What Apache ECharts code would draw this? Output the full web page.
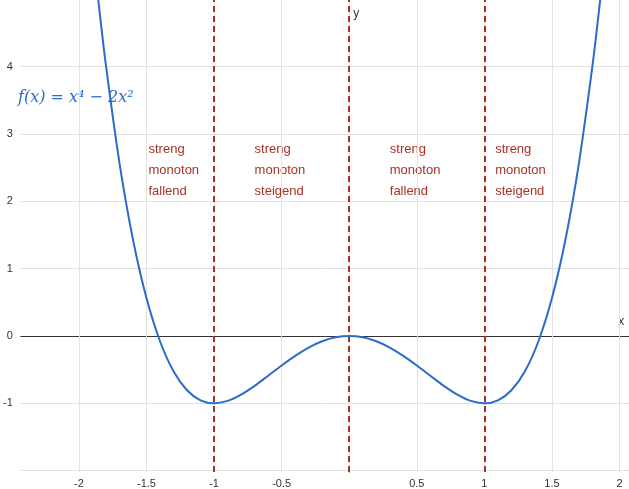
<!DOCTYPE html>
<html><head><meta charset="utf-8">
<script src="https://cdn.jsdelivr.net/npm/echarts@6/dist/echarts.min.js"></script>
<style>html,body{margin:0;padding:0;background:#fff}#c{width:629px;height:489px}</style>
</head><body><div id="c"></div>
<script>
const xs = [-1.9,-1.85,-1.8,-1.7,-1.6,-1.5,-1.4,-1.3,-1.2,-1.1,-1.0,-0.9,-0.8,-0.7,-0.6,-0.5,-0.4,-0.3,-0.2,-0.1,0,0.1,0.2,0.3,0.4,0.5,0.6,0.7,0.8,0.9,1.0,1.1,1.2,1.3,1.4,1.5,1.6,1.7,1.8,1.85,1.9];
const ys = [5.8121,4.8685,4.0176,2.5721,1.4336,0.5625,-0.0784,-0.5239,-0.8064,-0.9559,-1,-0.9639,-0.8704,-0.7399,-0.5904,-0.4375,-0.2944,-0.1719,-0.0784,-0.0199,0,-0.0199,-0.0784,-0.1719,-0.2944,-0.4375,-0.5904,-0.7399,-0.8704,-0.9639,-1,-0.9559,-0.8064,-0.5239,-0.0784,0.5625,1.4336,2.5721,4.0176,4.8685,5.8121];
const xTicks = [-2,-1.5,-1,-0.5,0.5,1,1.5,2];
const yTicks = [-1,0,1,2,3,4];
const xGrid = [-2,-1.5,-1,-0.5,0,0.5,1,1.5,2];
const yGrid = [-2,-1,1,2,3,4];
const dashX = [-1, 0, 1];
const notes = [
  {x:-1.485, y:2.81, t:'streng\nmonoton\nfallend'},
  {x:-0.70, y:2.81, t:'streng\nmonoton\nsteigend'},
  {x:0.30, y:2.81, t:'streng\nmonoton\nfallend'},
  {x:1.08, y:2.81, t:'streng\nmonoton\nsteigend'}
];
const red = '#a93226';
const chart = echarts.init(document.getElementById('c'));
const gridStyle = {color:'#e2e2e2', type:'solid', width:1};
chart.setOption({
  animation:false,
  grid:{left:0, right:0, top:0, bottom:0},
  xAxis:{type:'value', min:-2.43, max:2.07,
    axisLine:{onZero:true, lineStyle:{color:'#333', width:1}},
    axisTick:{show:true, length:4, customValues:xTicks, lineStyle:{color:'#333'}},
    axisLabel:{customValues:xTicks, color:'#333', fontSize:11, fontFamily:'Arial', margin:6},
    splitLine:{show:false}},
  yAxis:{type:'value', min:-2.02, max:4.99,
    axisLine:{onZero:true, lineStyle:{color:'#333', width:1}},
    axisTick:{show:true, length:4, customValues:yTicks, lineStyle:{color:'#333'}},
    axisLabel:{customValues:yTicks, color:'#333', fontSize:11, fontFamily:'Arial', margin:8},
    splitLine:{show:false}},
  series:[
    {type:'line', data:[], markLine:{symbol:'none', silent:true, label:{show:false}, lineStyle:gridStyle,
      data:xGrid.map(x=>({xAxis:x})).concat(yGrid.map(y=>({yAxis:y})))}},
    {type:'line', data:xs.map((x,i)=>[x,ys[i]]), smooth:0.3, showSymbol:false, z:5,
    lineStyle:{color:'#2b6bcc', width:2}, clip:true,
    markLine:{symbol:'none', silent:true, label:{show:false},
      lineStyle:{color:red, type:[6,4], width:2},
      data:dashX.map(x=>({xAxis:x}))}}]
});
const g = [];
notes.forEach(n=>{
  const p = chart.convertToPixel({gridIndex:0},[n.x,n.y]);
  g.push({type:'text', left:p[0], top:p[1]-8, style:{text:n.t, fill:red, fontSize:13, fontFamily:'Arial', lineHeight:21}});
});
const xe = chart.convertToPixel({gridIndex:0},[2.05,0]);
const ye = chart.convertToPixel({gridIndex:0},[0,4.97]);
g.push({type:'text', left:xe[0]-8, top:xe[1]-20, style:{text:'x', fill:'#333', fontSize:12, fontFamily:'Arial'}});
g.push({type:'text', left:ye[0]+4, top:ye[1]+6, style:{text:'y', fill:'#333', fontSize:12, fontFamily:'Arial'}});
g.push({type:'text', left:18, top:90, style:{text:'f(x) = x⁴ − 2x²', fill:'#2b6bcc', fontSize:16, fontFamily:'DejaVu Serif', fontStyle:'italic'}});
chart.setOption({graphic:g});
</script></body></html>
